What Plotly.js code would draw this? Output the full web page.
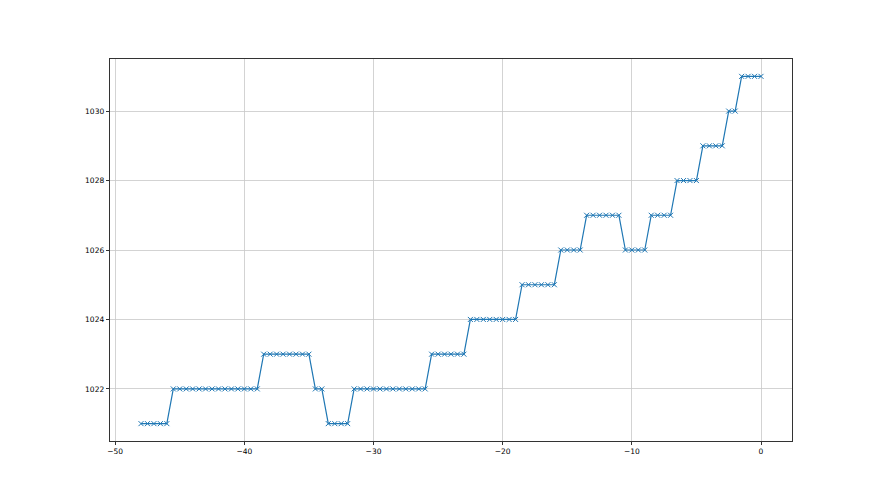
<!DOCTYPE html>
<html>
<head>
<meta charset="utf-8">
<script src="https://cdn.plot.ly/plotly-3.0.1.min.js"></script>
<style>html,body{margin:0;padding:0;background:#fff;}#chart{width:880px;height:495px;}</style>
</head>
<body>
<div id="chart"></div>
<script>
// Pressure levels, one run per step (half-hour spacing from -48 to 0)
const runLevels = [1021, 1022, 1023, 1022, 1021, 1022, 1023, 1024, 1025, 1026, 1027, 1026, 1027, 1028, 1029, 1030, 1031];
const runLengths = [5, 14, 8, 2, 4, 12, 6, 8, 6, 4, 6, 4, 4, 4, 4, 2, 4];
const xStart = -48;
const xStep = 0.5;

const xValues = [];
const yValues = [];
let idx = 0;
runLevels.forEach((lvl, r) => {
  for (let k = 0; k < runLengths[r]; k++) {
    xValues.push(xStart + idx * xStep);
    yValues.push(lvl);
    idx++;
  }
});

const xTicks = [-50, -40, -30, -20, -10, 0];
const yTicks = [1022, 1024, 1026, 1028, 1030];

const trace = {
  x: xValues,
  y: yValues,
  type: 'scatter',
  mode: 'lines+markers',
  line: {color: '#1f77b4', width: 1.2},
  marker: {symbol: 'x-thin', size: 5, color: '#1f77b4', line: {width: 1, color: '#1f77b4'}},
  hoverinfo: 'skip'
};

const axisCommon = {
  showline: true, mirror: true, linecolor: '#000', linewidth: 0.8,
  showgrid: true, gridcolor: '#c8c8c8', gridwidth: 0.8,
  zeroline: false,
  ticks: 'outside', ticklen: 3.5, tickwidth: 0.8, tickcolor: '#000',
  tickfont: {family: 'DejaVu Sans', size: 7.5, color: '#000'}
};

const layout = {
  width: 880, height: 495,
  margin: {l: 110, r: 88, t: 59, b: 54},
  paper_bgcolor: '#fff', plot_bgcolor: '#fff',
  showlegend: false,
  xaxis: Object.assign({}, axisCommon, {range: [-50.4, 2.4], tickvals: xTicks, ticktext: xTicks.map(v => v < 0 ? '\u2212' + Math.abs(v) : String(v))}),
  yaxis: Object.assign({}, axisCommon, {range: [1020.5, 1031.5], tickvals: yTicks, ticktext: yTicks.map(String)})
};

Plotly.newPlot('chart', [trace], layout, {staticPlot: true, displayModeBar: false});
</script>
</body>
</html>
